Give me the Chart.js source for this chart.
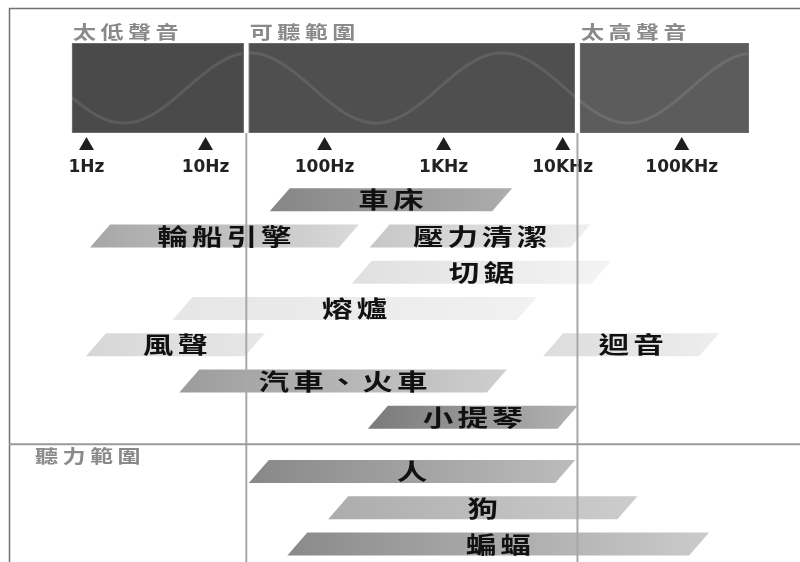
<!DOCTYPE html>
<html><head><meta charset="utf-8">
<script src="https://cdn.jsdelivr.net/npm/chart.js@4.4.1/dist/chart.umd.min.js"></script>
<style>html,body{margin:0;padding:0;background:#fff;}#wrap{width:800px;height:562px;position:relative;}</style>
</head><body><div id="wrap"><canvas id="c"></canvas></div>
<script>
// ---- data ----
const tickHz = [1, 10, 100, 1000, 10000, 100000];
const tickLabels = ['1Hz', '10Hz', '100Hz', '1KHz', '10KHz', '100KHz'];
const zoneLabels = ['太低聲音', '可聽範圍', '太高聲音'];
const zoneEdgesHz = [0.755, 22, 13300, 366000];

const noiseRows = ['車床', '輪船引擎/壓力清潔', '切鋸', '熔爐', '風聲/迴音', '汽車、火車', '小提琴'];
const noiseNames = ['車床', '輪船引擎', '壓力清潔', '切鋸', '熔爐', '風聲', '迴音', '汽車、火車', '小提琴'];
const noiseRowIndex = [0, 1, 1, 2, 3, 4, 4, 5, 6];
const noiseLowHz = [42, 1.3, 290, 205, 6.4, 1.2, 8300, 7.3, 280];
const noiseHighHz = [3100, 160, 14100, 21000, 5000, 26, 170000, 2800, 11000];

const hearingTitle = '聽力範圍';
const hearingNames = ['人', '狗', '蝙蝠'];
const hearingLowHz = [28, 130, 59];
const hearingHighHz = [10500, 35000, 140000];

// ---- styles ----
const noiseColors = [['#868686','#adadad'],['#a6a6a6','#dadada'],['#c6c6c6','#efefef'],['#e0e0e0','#f4f4f4'],['#e6e6e6','#f1f1f1'],['#d6d6d6','#e8e8e8'],['#dcdcdc','#eeeeee'],['#9c9c9c','#cfcfcf'],['#7a7a7a','#b2b2b2']];
const hearingColors = [['#888888','#bcbcbc'],['#acacac','#cdcdcd'],['#8a8a8a','#cbcbcb']];
const panelColors = ['#4a4a4a', '#4f4f4f', '#5c5c5c'];
const wave = { peakHz: 23.6, periodDecades: 2.117, amp: 35 };

// category slots (rows with half-row spacers)
const categories = [];
noiseRows.forEach((r, i) => { if (i) categories.push('gap-n' + i); categories.push(r); });
categories.push('gap-sep'); categories.push(hearingTitle);
hearingNames.forEach((r, i) => { if (i) categories.push('gap-h' + i); categories.push(r); });

function drawSpaced(ctx, text, x, y, o) {
  ctx.save();
  ctx.font = o.font; ctx.fillStyle = o.color; ctx.textBaseline = 'middle'; ctx.textAlign = 'left';
  const chars = [...text];
  const ws = chars.map(c => ctx.measureText(c).width);
  const total = ws.reduce((a, b) => a + b, 0) + o.spacing * (chars.length - 1);
  ctx.translate(x, y); ctx.scale(o.sx, 1);
  let cx = o.align === 'center' ? -total / 2 : 0;
  chars.forEach((c, i) => { ctx.fillText(c, cx, 0); cx += ws[i] + o.spacing; });
  ctx.restore();
}
const zoneFont = { font: 'bold 18px "Noto Sans CJK TC"', sx: 1.28, spacing: 3.5, color: '#8a8a8a', align: 'left' };
const barFont = { font: 'bold 23px "Noto Sans CJK TC"', sx: 1.33, spacing: 3, color: '#111', align: 'center' };

const deco = {
  id: 'deco',
  beforeDraw(chart) {
    const { ctx, scales: { x } } = chart;
    ctx.save();
    ctx.fillStyle = '#fff'; ctx.fillRect(0, 0, chart.width, chart.height);
    ctx.strokeStyle = '#707070'; ctx.lineWidth = 1.5;
    ctx.beginPath(); ctx.moveTo(9.5, chart.height); ctx.lineTo(9.5, 8.5); ctx.lineTo(chart.width, 8.5); ctx.stroke();
    const edges = zoneEdgesHz.map(v => x.getPixelForValue(v));
    const top = 43, bot = 133, gap = 2.5;
    for (let i = 0; i < 3; i++) {
      const l = edges[i] + (i ? gap : 0), r = edges[i + 1] - (i < 2 ? gap : 0);
      ctx.fillStyle = panelColors[i]; ctx.fillRect(l, top, r - l, bot - top);
      ctx.strokeStyle = '#6c6c6c'; ctx.lineWidth = 1; ctx.strokeRect(l + 0.5, top + 0.5, r - l - 1, bot - top - 1);
      ctx.save(); ctx.beginPath(); ctx.rect(l, top, r - l, bot - top); ctx.clip();
      ctx.strokeStyle = 'rgba(255,255,255,0.1)'; ctx.lineWidth = 3; ctx.beginPath();
      const mid = (top + bot) / 2;
      for (let p = l; p <= r; p += 2) {
        const lv = Math.log10(x.getValueForPixel(p));
        const ph = (lv - Math.log10(wave.peakHz)) / wave.periodDecades * 2 * Math.PI;
        const yy = mid - wave.amp * Math.cos(ph);
        if (p === l) ctx.moveTo(p, yy); else ctx.lineTo(p, yy);
      }
      ctx.stroke(); ctx.restore();
      drawSpaced(ctx, zoneLabels[i], l + 1, 32, zoneFont);
    }
    ctx.fillStyle = '#1e1e1e';
    x.ticks.forEach(t => {
      const p = x.getPixelForValue(t.value);
      ctx.beginPath(); ctx.moveTo(p, 137); ctx.lineTo(p + 7.5, 150); ctx.lineTo(p - 7.5, 150); ctx.closePath(); ctx.fill();
    });
    ctx.restore();
  },
  beforeDatasetDraw(chart, args) {
    const ctx = chart.ctx;
    const cols = args.index === 0 ? noiseColors : hearingColors;
    const s = 10;
    ctx.save();
    args.meta.data.forEach((el, i) => {
      const { x, base, y, height } = el.getProps(['x', 'base', 'y', 'height'], true);
      const l = Math.min(x, base), r = Math.max(x, base), t = y - height / 2, b = y + height / 2;
      const g = ctx.createLinearGradient(l - s, 0, r + s, 0);
      g.addColorStop(0, cols[i][0]); g.addColorStop(1, cols[i][1]);
      ctx.fillStyle = g;
      ctx.beginPath(); ctx.moveTo(l + s, t); ctx.lineTo(r + s, t); ctx.lineTo(r - s, b); ctx.lineTo(l - s, b); ctx.closePath(); ctx.fill();
    });
    ctx.restore();
    return false;
  },
  afterDatasetsDraw(chart) {
    const { ctx, scales: { x, y } } = chart;
    ctx.save();
    const edges = zoneEdgesHz.map(v => x.getPixelForValue(v));
    ctx.strokeStyle = '#a8a8a8'; ctx.lineWidth = 2;
    [edges[1], edges[2]].forEach(p => { ctx.beginPath(); ctx.moveTo(p, 133); ctx.lineTo(p, chart.height); ctx.stroke(); });
    const ti = categories.indexOf(hearingTitle);
    const sepY = (y.getPixelForValue(ti - 1) + y.getPixelForValue(ti)) / 2;
    ctx.strokeStyle = '#9a9a9a'; ctx.lineWidth = 2;
    ctx.beginPath(); ctx.moveTo(9, sepY); ctx.lineTo(chart.width, sepY); ctx.stroke();
    drawSpaced(ctx, hearingTitle, chart.chartArea.left + 25, y.getPixelForValue(ti) + 3, zoneFont);
    chart.data.datasets.forEach((ds, di) => {
      chart.getDatasetMeta(di).data.forEach((el, i) => {
        const { x: xe, base, y: yc } = el.getProps(['x', 'base', 'y'], true);
        drawSpaced(ctx, ds.data[i].name, (xe + base) / 2, yc, barFont);
      });
    });
    ctx.restore();
  }
};

new Chart(document.getElementById('c'), {
  type: 'bar',
  data: {
    datasets: [
      { label: '噪音來源', grouped: false, barThickness: 23, backgroundColor: 'rgba(0,0,0,0)',
        data: noiseNames.map((n, i) => ({ x: [noiseLowHz[i], noiseHighHz[i]], y: noiseRows[noiseRowIndex[i]], name: n })) },
      { label: hearingTitle, grouped: false, barThickness: 23, backgroundColor: 'rgba(0,0,0,0)',
        data: hearingNames.map((n, i) => ({ x: [hearingLowHz[i], hearingHighHz[i]], y: n, name: n })) }
    ]
  },
  options: {
    indexAxis: 'y', responsive: true, maintainAspectRatio: false, animation: false,
    layout: { padding: { left: 10, right: 0, top: 144.2, bottom: 8.9 } },
    plugins: { legend: { display: false }, tooltip: { enabled: false } },
    scales: {
      x: { type: 'logarithmic', position: 'top', min: 0.2278, max: 984300,
        grid: { display: false, drawTicks: false }, border: { display: false },
        afterBuildTicks: s => { s.ticks = tickHz.map(v => ({ value: v })); },
        ticks: { autoSkip: false, maxRotation: 0, padding: 13, color: '#222',
          font: { family: 'DejaVu Sans', weight: 'bold', size: 17 },
          callback: v => { const i = tickHz.indexOf(v); return i < 0 ? '' : tickLabels[i]; } } },
      y: { type: 'category', labels: categories, display: false, offset: true }
    }
  },
  plugins: [deco]
});
</script></body></html>
